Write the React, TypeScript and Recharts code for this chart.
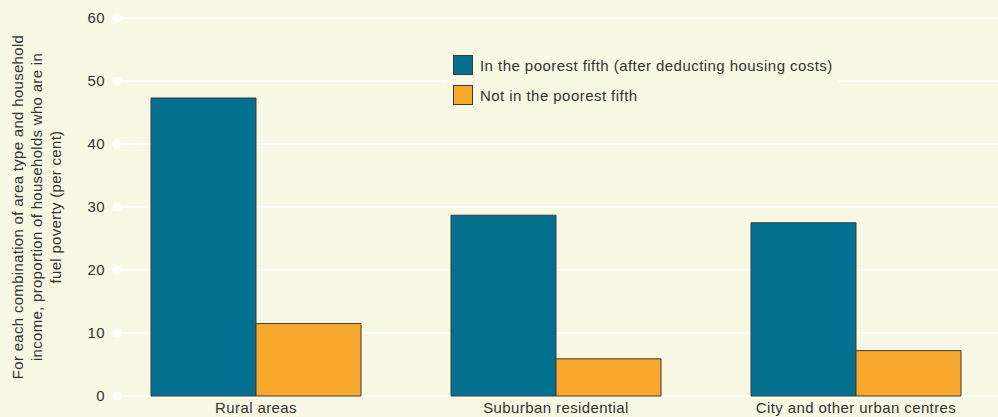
import { BarChart, Bar, XAxis, YAxis, CartesianGrid, Legend } from "recharts";

const BG = "#f6f8e4";
const TEXT = "#333333";
const FONT = "'Liberation Sans', Arial, Helvetica, sans-serif";
const FS = 15;
const LS = 0.4;
const BLUE = "#03708f";
const ORANGE = "#f9a82e";
const EDGE = "#3a3a3a";

const areaTypes = ["Rural areas", "Suburban residential", "City and other urban centres"];
const poorestFifth = [47.3, 28.7, 27.5];
const notPoorestFifth = [11.5, 5.9, 7.2];
const yTicks = [0, 10, 20, 30, 40, 50, 60];
const yLabelLines = [
  "For each combination of area type and household",
  "income, proportion of households who are in",
  "fuel poverty (per cent)",
];
const seriesNames = [
  "In the poorest fifth (after deducting housing costs)",
  "Not in the poorest fifth",
];

const data = areaTypes.map((label, i) => ({
  label,
  poorest: poorestFifth[i],
  notPoorest: notPoorestFifth[i],
}));

// tick = label + white dot where the gridline starts
function YTick({ x, y, payload }: any) {
  return (
    <g>
      <text x={x - 12} y={y} dy="0.35em" textAnchor="end" fill={TEXT}
            fontSize={FS} letterSpacing={LS} fontFamily={FONT}>{payload.value}</text>
      <circle cx={x} cy={y} r={4.5} fill="#ffffff" />
    </g>
  );
}

function XTick({ x, y, payload }: any) {
  return (
    <text x={x} y={y} dy="0.71em" textAnchor="middle" fill={TEXT}
          fontSize={FS} letterSpacing={LS} fontFamily={FONT}>{payload.value}</text>
  );
}

function YLabel({ viewBox }: any) {
  const cx = viewBox.x + 23;
  const cy = viewBox.y + viewBox.height / 2;
  return (
    <text x={cx} y={cy} transform={`rotate(-90, ${cx}, ${cy})`} textAnchor="middle"
          fill={TEXT} fontSize={FS} letterSpacing={0.3} fontFamily={FONT}>
      {yLabelLines.map((l, i) => (
        <tspan key={i} x={cx} dy={i === 0 ? 0 : 19}>{l}</tspan>
      ))}
    </text>
  );
}

function LegendBox() {
  const colors = [BLUE, ORANGE];
  return (
    <div style={{ background: BG, padding: "5px 6px", fontFamily: FONT, fontSize: FS,
                  letterSpacing: LS + 0.05, color: TEXT }}>
      {seriesNames.map((n, i) => (
        <div key={n} style={{ display: "flex", alignItems: "center", height: 20, marginBottom: i === 0 ? 10 : 0 }}>
          <span style={{ width: 18, height: 18, background: colors[i], border: `1px solid ${EDGE}`, display: "inline-block" }} />
          <span style={{ marginLeft: 7, whiteSpace: "nowrap" }}>{n}</span>
        </div>
      ))}
    </div>
  );
}

export default function App() {
  return (
    <div style={{ position: "absolute", left: 0, top: 0, width: 998, height: 417, background: BG }}>
      <BarChart width={998} height={417} data={data} barGap={0} barSize={105}
                margin={{ top: 18, right: 0, bottom: 0, left: 0 }}>
        <CartesianGrid vertical={false} stroke="#ffffff" strokeWidth={2} />
        <XAxis dataKey="label" axisLine={false} tickLine={false} tickSize={0} tickMargin={6}
               height={21} padding={{ left: -11, right: -8 }} interval={0} tick={<XTick />} />
        <YAxis domain={[0, 60]} ticks={yTicks} width={117} axisLine={false} tickLine={false}
               tickSize={0} tickMargin={0} tick={<YTick />} label={<YLabel />} />
        <Legend layout="vertical" align="center" verticalAlign="middle"
                wrapperStyle={{ top: 50, left: 447, width: "auto" }} content={<LegendBox />} />
        <Bar dataKey="poorest" name={seriesNames[0]} fill={BLUE} stroke={EDGE} strokeWidth={1}
             isAnimationActive={false} />
        <Bar dataKey="notPoorest" name={seriesNames[1]} fill={ORANGE} stroke={EDGE} strokeWidth={1}
             isAnimationActive={false} />
      </BarChart>
    </div>
  );
}
